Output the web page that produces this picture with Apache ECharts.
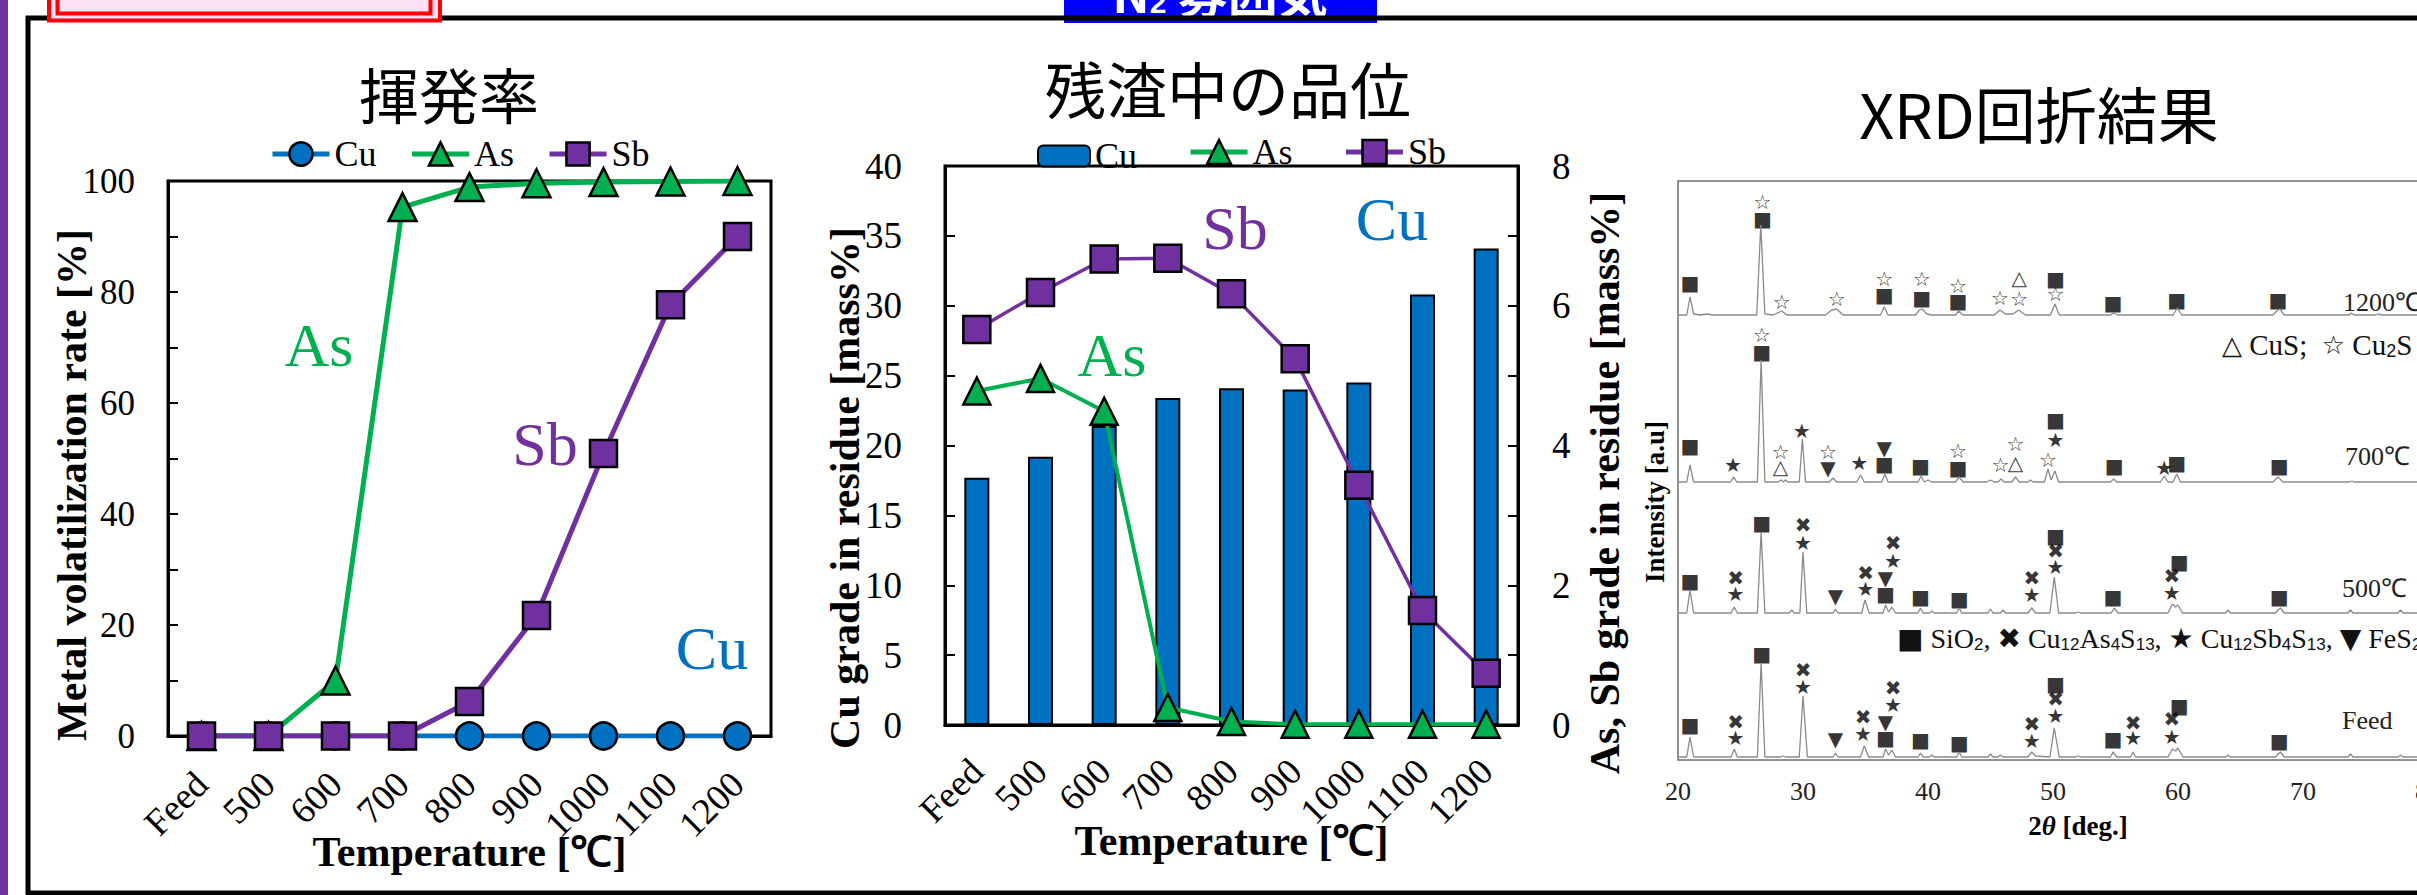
<!DOCTYPE html>
<html>
<head>
<meta charset="utf-8">
<script src="https://cdn.jsdelivr.net/npm/echarts@6.0.0/dist/echarts.min.js"></script>
<style>
  html, body { margin: 0; padding: 0; background: #fff; overflow: hidden; }
  #main { width: 2417px; height: 895px; }
</style>
</head>
<body>
<div id="main"></div>
<script>
// Roasting temperatures (Feed = untreated sample)
const temps = ['Feed', '500', '600', '700', '800', '900', '1000', '1100', '1200'];

// Metal volatilization rate [%]
const volCu = [0, 0, 0, 0, 0, 0, 0, 0, 0];
const volAs = [0, 0, 10, 95.3, 98.9, 99.6, 99.8, 99.9, 100];
const volSb = [0, 0, 0, 0, 6.2, 21.7, 50.9, 77.7, 90.0];

// Grade in residue [mass%]
const gradeCu = [17.7, 19.2, 21.4, 23.4, 24.1, 24.0, 24.5, 30.8, 34.1];
const gradeAs = [4.78, 4.96, 4.49, 0.25, 0.05, 0.01, 0.01, 0.01, 0.01];
const gradeSb = [5.66, 6.19, 6.67, 6.68, 6.17, 5.24, 3.43, 1.64, 0.74];

// XRD patterns: [2theta (deg), intensity above the pattern's own baseline (a.u.)]
const xrdFeed = [[20,0],[20.7,0],[20.96,20],[21.25,0],[24.25,0],[24.5,8],[24.75,0],[26.35,0],[26.65,94],[26.95,0],[28.2,0],[28.4,1],[28.6,0],[29.7,0],[30.0,61],[30.35,0],[32.4,0],[32.6,4],[32.8,0],[34.6,0],[34.9,11],[35.25,0],[36.4,0],[36.6,8],[36.85,2],[37.1,7],[37.4,0],[39.2,0],[39.4,4],[39.6,0],[40.1,0],[40.3,2],[40.5,0],[42.3,0],[42.5,5],[42.7,0],[44.8,0],[45.0,3],[45.2,0],[45.6,0],[45.8,2],[46.0,0],[48.0,0],[48.3,5],[48.6,1],[49.75,0],[50.1,29],[50.5,0],[51.8,0],[52.0,1],[52.2,0],[54.6,0],[54.8,5],[55.1,0],[56.2,0],[56.4,5],[56.6,0],[59.2,0],[59.55,8],[59.8,6],[60.0,9],[60.4,0],[63.8,0],[64.0,2],[64.2,0],[67.8,0],[68.0,3],[68.2,5],[68.5,0],[73.6,0],[73.8,3],[74.0,0],[77.6,0],[77.8,2],[78.0,0],[84,0]];
const xrd500 = [[20,0],[20.7,0],[20.96,23],[21.25,0],[24.25,0],[24.5,6],[24.75,0],[26.35,0],[26.65,81],[26.95,0],[28.9,0],[29.1,3],[29.3,0],[29.75,0],[30.0,61],[30.3,0],[32.4,0],[32.6,4],[32.8,0],[34.7,0],[34.95,13],[35.3,0],[36.4,0],[36.6,8],[36.85,1],[37.1,6],[37.4,0],[39.2,0],[39.4,5],[39.6,0],[40.1,0],[40.3,2],[40.5,0],[42.3,0],[42.5,5],[42.7,0],[44.8,0],[45.0,4],[45.2,0],[45.8,0],[46.0,3],[46.2,0],[48.0,0],[48.3,5],[48.6,0],[49.75,0],[50.1,36],[50.45,0],[51.8,0],[52.0,1],[52.2,0],[54.65,0],[54.9,5],[55.2,0],[59.2,0],[59.55,9],[59.8,6],[60.0,8],[60.35,0],[63.8,0],[64.0,3],[64.2,0],[67.8,0],[68.0,3],[68.2,5],[68.5,0],[73.6,0],[73.8,3],[74.0,0],[77.6,0],[77.8,3],[78.0,0],[84,0]];
const xrd700 = [[20,0],[20.7,0],[20.96,17],[21.25,0],[24.2,0],[24.45,5],[24.7,0],[26.35,0],[26.65,122],[26.95,0],[28.0,0],[28.25,2],[28.45,0],[28.6,2],[28.8,0],[29.7,0],[29.95,43],[30.2,0],[32.1,0],[32.4,4],[32.7,0],[34.3,0],[34.6,7],[34.9,0],[36.3,0],[36.55,8],[36.8,0],[39.2,0],[39.45,6],[39.7,0],[40.0,2],[40.3,0],[42.2,0],[42.5,5],[42.8,0],[44.7,0],[45.0,2],[45.3,0],[45.6,0],[45.85,3],[46.1,0],[46.7,0],[47.0,5],[47.3,0],[48.0,0],[48.2,2],[48.4,0],[49.3,0],[49.6,13],[49.85,2],[50.15,11],[50.45,0],[54.6,0],[54.85,3],[55.1,0],[58.6,0],[58.9,6],[59.2,0],[59.6,0],[59.9,8],[60.2,0],[67.6,0],[68.0,5],[68.4,0],[73.7,0],[73.9,1],[74.1,0],[84,0]];
const xrd1200 = [[20,0],[20.7,0],[20.96,18],[21.25,1],[21.8,0],[22.3,1],[22.8,0],[26.3,0],[26.62,90],[26.95,1],[27.6,0],[28.3,4],[28.7,0],[31.8,0],[32.3,5],[32.7,6],[33.2,0],[36.2,0],[36.5,8],[36.8,0],[39.0,0],[39.3,5],[39.55,6],[39.9,1],[40.3,0],[42.2,0],[42.45,4],[42.8,0],[45.3,0],[45.75,5],[46.2,1],[46.8,1],[47.25,5],[47.8,0],[49.8,0],[50.15,11],[50.5,0],[54.6,0],[54.85,2],[55.2,0],[59.6,0],[59.95,7],[60.3,0],[67.6,0],[67.9,4],[68.15,6],[68.5,0],[73.7,0],[73.85,2],[74.1,0],[75.8,0],[76.0,1],[76.3,0],[84,0]];

// Phase marks: [symbol, 2theta, height above the pattern's baseline]
const marksFeed = [['■',20.96,32],['✖',24.6,35],['★',24.6,19],['■',26.7,103],['✖',30.0,87],['★',30.0,70],['▼',32.6,18],['✖',34.8,40],['★',34.8,23],['▼',36.6,35],['■',36.6,19],['✖',37.2,69],['★',37.2,52],['■',39.4,17],['■',42.5,14],['✖',48.3,33],['★',48.3,16],['■',50.2,73],['✖',50.2,58],['★',50.2,41],['■',54.8,18],['✖',56.4,34],['★',56.4,19],['✖',59.5,38],['★',59.5,20],['■',60.1,51],['■',68.1,16]];
const marks500 = [['■',20.96,32],['✖',24.6,35],['★',24.6,19],['■',26.7,90],['✖',30.0,88],['★',30.0,70],['▼',32.6,17],['✖',35.0,40],['★',35.0,24],['▼',36.6,35],['■',36.6,19],['✖',37.2,70],['★',37.2,52],['■',39.4,16],['■',42.5,14],['✖',48.3,35],['★',48.3,18],['■',50.2,77],['✖',50.2,62],['★',50.2,46],['■',54.8,16],['✖',59.5,37],['★',59.5,20],['■',60.1,51],['■',68.1,16]];
const marks700 = [['■',20.96,36],['★',24.4,17],['☆',26.7,147],['■',26.7,130],['☆',28.2,30],['△',28.2,15],['★',29.9,51],['☆',32.0,30],['▼',32.0,14],['★',34.5,19],['▼',36.5,34],['■',36.5,18],['■',39.4,16],['☆',42.4,31],['■',42.4,14],['☆',45.8,17],['☆',47.0,38],['△',47.0,19],['☆',49.6,22],['■',50.2,62],['★',50.2,42],['■',54.9,16],['★',58.9,14],['■',59.9,19],['■',68.1,16]];
const marks1200 = [['■',20.96,32],['☆',26.75,113],['■',26.75,96],['☆',28.3,13],['☆',32.7,16],['☆',36.5,36],['■',36.5,20],['☆',39.5,36],['■',39.5,17],['☆',42.4,29],['■',42.4,14],['☆',45.75,17],['☆',47.3,16],['△',47.3,37],['■',50.2,36],['☆',50.2,21],['■',54.8,12],['■',59.9,15],['■',68.0,15]];

const xrdTicks = [20, 30, 40, 50, 60, 70, 80];

const CU = '#0070C0', AS = '#00B050', SB = '#7030A0';
const SERIF = "'Liberation Serif', 'Times New Roman', serif";
const GLYPH = "'DejaVu Sans', sans-serif";

// baselines of the stacked XRD patterns on the panel's intensity axis
const xrdBase = { feed: 3, t500: 147, t700: 278, t1200: 445 };

function lineSeries(name, data, color, symbol, size, width, xi, yi) {
  return {
    type: 'line', name, data, xAxisIndex: xi, yAxisIndex: yi,
    symbol, symbolSize: size, showAllSymbol: true,
    lineStyle: { color, width },
    itemStyle: { color, borderColor: '#000', borderWidth: 2.5 },
    emphasis: { disabled: true }, animation: false
  };
}
function xrdLine(data, base) {
  return {
    type: 'line', xAxisIndex: 2, yAxisIndex: 3, silent: true, animation: false,
    showSymbol: false, symbol: 'none',
    lineStyle: { color: '#8a8a8a', width: 1.3 },
    data: data.map(([x, h]) => [x, h + base])
  };
}
function xrdMarks(marks, base) {
  return {
    type: 'scatter', xAxisIndex: 2, yAxisIndex: 3, silent: true, animation: false,
    symbolSize: 1, itemStyle: { color: 'rgba(0,0,0,0)' },
    label: { show: true, position: 'inside', formatter: '{b}', fontFamily: GLYPH, fontSize: 20, color: '#000' },
    labelLayout: { hideOverlap: false },
    data: marks.map(([g, x, h]) => ({ name: g, value: [x, h + base] }))
  };
}
// rotated axis title, centred on (x, y)
function vTitle(text, x, y, size) {
  return { type: 'text', x, y, rotation: Math.PI / 2,
    style: { text, align: 'center', verticalAlign: 'middle', font: `bold ${size}px 'Liberation Serif'`, fill: '#000' } };
}

const axisBlack = { lineStyle: { color: '#000', width: 3 } };
const tickIn = { show: true, inside: true, length: 10, lineStyle: { color: '#000', width: 2 } };
const legendText = size => ({ fontFamily: SERIF, fontSize: size, color: '#000' });
const xName = { fontFamily: SERIF, fontWeight: 'bold', fontSize: 42, color: '#000' };

const option = {
  backgroundColor: '#fff',
  animation: false,
  grid: [
    { left: 168, top: 181, width: 603, height: 555, show: true, borderColor: '#000', borderWidth: 3, outerBoundsMode: 'none' },
    { left: 945, top: 166, width: 573, height: 559, show: true, borderColor: '#000', borderWidth: 3, outerBoundsMode: 'none' },
    { left: 1678, top: 181, width: 800, height: 579, show: true, borderColor: '#707070', borderWidth: 1.5, outerBoundsMode: 'none' }
  ],
  legend: [
    { data: ['Cu', 'As', 'Sb'], left: 265, top: 131, itemWidth: 57, itemHeight: 29, itemGap: 33,
      lineStyle: { width: 5 }, itemStyle: { borderWidth: 2.5, borderColor: '#000' },
      textStyle: legendText(36), selectedMode: false },
    { data: ['Cu grade'], left: 1032, top: 133, itemWidth: 52, itemHeight: 21,
      formatter: n => n.split(' ')[0], itemStyle: { borderWidth: 2, borderColor: '#000' },
      textStyle: legendText(36), selectedMode: false },
    { data: ['As grade', 'Sb grade'], left: 1183, top: 129, itemWidth: 57, itemHeight: 30, itemGap: 51,
      formatter: n => n.split(' ')[0],
      lineStyle: { width: 5 }, itemStyle: { borderWidth: 2.5, borderColor: '#000' },
      textStyle: legendText(36), selectedMode: false }
  ],
  xAxis: [
    { type: 'category', gridIndex: 0, data: temps, boundaryGap: true,
      axisLine: axisBlack, axisTick: { show: false },
      axisLabel: { interval: 0, rotate: 45, margin: 42, fontFamily: SERIF, fontSize: 37, color: '#000' },
      name: 'Temperature [℃]', nameLocation: 'middle', nameGap: 95, nameMoveOverlap: false,
      nameTextStyle: xName },
    { type: 'category', gridIndex: 1, data: temps, boundaryGap: true,
      axisLine: axisBlack, axisTick: { show: false },
      axisLabel: { interval: 0, rotate: 45, margin: 40, fontFamily: SERIF, fontSize: 37, color: '#000' },
      name: 'Temperature [℃]', nameLocation: 'middle', nameGap: 95, nameMoveOverlap: false,
      nameTextStyle: xName },
    { type: 'value', gridIndex: 2, min: 20, max: 84, interval: 10,
      axisLine: { show: false }, axisTick: { show: false }, splitLine: { show: false },
      axisLabel: { margin: 18, fontFamily: SERIF, fontSize: 26, color: '#222',
        formatter: v => (xrdTicks.includes(v) ? String(v) : '') },
      name: '{n|2}{t|θ}{n| [deg.]}', nameLocation: 'middle', nameGap: 52, nameMoveOverlap: false,
      nameTextStyle: { rich: {
        n: { fontFamily: SERIF, fontWeight: 'bold', fontSize: 27, color: '#000' },
        t: { fontFamily: SERIF, fontWeight: 'bold', fontStyle: 'italic', fontSize: 27, color: '#000' } } } }
  ],
  yAxis: [
    { type: 'value', gridIndex: 0, min: 0, max: 100, interval: 10,
      axisLine: { show: true, ...axisBlack }, axisTick: tickIn, splitLine: { show: false },
      axisLabel: { margin: 33, fontFamily: SERIF, fontSize: 35, color: '#000',
        formatter: v => (v % 20 === 0 ? String(v) : '') } },
    { type: 'value', gridIndex: 1, min: 0, max: 40, interval: 5,
      axisLine: { show: true, ...axisBlack }, axisTick: tickIn, splitLine: { show: false },
      axisLabel: { margin: 43, fontFamily: SERIF, fontSize: 37, color: '#000' } },
    { type: 'value', gridIndex: 1, position: 'right', min: 0, max: 8, interval: 1,
      axisLine: { show: true, ...axisBlack }, axisTick: tickIn, splitLine: { show: false },
      axisLabel: { margin: 34, fontFamily: SERIF, fontSize: 37, color: '#000',
        formatter: v => (v % 2 === 0 ? String(v) : '') } },
    { type: 'value', gridIndex: 2, min: 0, max: 579,
      axisLine: { show: false }, axisTick: { show: false }, axisLabel: { show: false }, splitLine: { show: false } }
  ],
  series: [
    lineSeries('Cu', volCu, CU, 'circle', 27, 5, 0, 0),
    lineSeries('As', volAs, AS, 'triangle', 28, 5, 0, 0),
    lineSeries('Sb', volSb, SB, 'rect', 27, 5, 0, 0),
    { type: 'bar', name: 'Cu grade', data: gradeCu, xAxisIndex: 1, yAxisIndex: 1, barWidth: 25,
      itemStyle: { color: CU, borderColor: '#000', borderWidth: 2 }, emphasis: { disabled: true }, animation: false },
    lineSeries('As grade', gradeAs, AS, 'triangle', 27, 4, 1, 2),
    lineSeries('Sb grade', gradeSb, SB, 'rect', 27, 3.5, 1, 2),
    xrdLine(xrdFeed, xrdBase.feed), xrdLine(xrd500, xrdBase.t500),
    xrdLine(xrd700, xrdBase.t700), xrdLine(xrd1200, xrdBase.t1200),
    xrdMarks(marksFeed, xrdBase.feed), xrdMarks(marks500, xrdBase.t500),
    xrdMarks(marks700, xrdBase.t700), xrdMarks(marks1200, xrdBase.t1200)
  ],
  graphic: { elements: [
    // slide decorations
    { type: 'rect', left: 0, top: 0, shape: { width: 8, height: 895 }, style: { fill: '#7030A0' }, z: 10 },
    { type: 'rect', left: 1064, top: 0, shape: { width: 313, height: 23 }, style: { fill: '#0000FF' }, z: 10 },
    { type: 'text', x: 1220, y: -9, z: 11,
      style: { text: 'N{s|2} 雰囲気', align: 'center', verticalAlign: 'middle', fill: '#fff',
        font: "bold 50px 'Noto Sans CJK JP'", rich: { s: { fontSize: 30, fontWeight: 'bold', fill: '#fff', padding: [22, 0, 0, 0] } } } },
    { type: 'rect', shape: { x: 28, y: 18, width: 2500, height: 875 }, style: { fill: 'none', stroke: '#000', lineWidth: 5 }, z: 12 },
    { type: 'rect', shape: { x: 49, y: -10, width: 391, height: 30.5 }, style: { fill: '#FFE1F6', stroke: '#FF0000', lineWidth: 4 }, z: 13 },
    { type: 'rect', shape: { x: 57.5, y: -10, width: 373, height: 23.5 }, style: { fill: '#FFE1F6', stroke: '#FF0000', lineWidth: 4 }, z: 13 },
    // panel titles
    { type: 'text', x: 449, y: 92, style: { text: '揮発率', align: 'center', verticalAlign: 'middle', font: "60px 'Noto Sans CJK JP'", fill: '#000' } },
    { type: 'text', x: 1228, y: 87, style: { text: '残渣中の品位', align: 'center', verticalAlign: 'middle', font: "61px 'Noto Sans CJK JP'", fill: '#000' } },
    { type: 'text', x: 2039, y: 112, style: { text: 'XRD回折結果', align: 'center', verticalAlign: 'middle', font: "61px 'Noto Sans CJK JP'", fill: '#000' } },
    // vertical axis titles
    vTitle('Metal volatilization rate [%]', 72, 485, 42),
    vTitle('Cu grade in residue [mass%]', 845, 488, 42),
    vTitle('As, Sb grade in residue [mass%]', 1605, 483, 42),
    vTitle('Intensity [a.u]', 1655, 502, 27),
    // series annotations
    { type: 'text', x: 319, y: 345, style: { text: 'As', align: 'center', verticalAlign: 'middle', font: "62px 'Liberation Serif'", fill: AS } },
    { type: 'text', x: 545, y: 444, style: { text: 'Sb', align: 'center', verticalAlign: 'middle', font: "62px 'Liberation Serif'", fill: SB } },
    { type: 'text', x: 712, y: 648, style: { text: 'Cu', align: 'center', verticalAlign: 'middle', font: "62px 'Liberation Serif'", fill: CU } },
    { type: 'text', x: 1112, y: 355, style: { text: 'As', align: 'center', verticalAlign: 'middle', font: "62px 'Liberation Serif'", fill: AS } },
    { type: 'text', x: 1235, y: 228, style: { text: 'Sb', align: 'center', verticalAlign: 'middle', font: "62px 'Liberation Serif'", fill: SB } },
    { type: 'text', x: 1392, y: 219, style: { text: 'Cu', align: 'center', verticalAlign: 'middle', font: "62px 'Liberation Serif'", fill: CU } },
    // XRD pattern labels and phase keys
    { type: 'text', x: 2343, y: 302, style: { text: '1200℃', align: 'left', verticalAlign: 'middle', font: "26px 'Liberation Serif'", fill: '#222' } },
    { type: 'text', x: 2345, y: 456, style: { text: '700℃', align: 'left', verticalAlign: 'middle', font: "26px 'Liberation Serif'", fill: '#222' } },
    { type: 'text', x: 2342, y: 588, style: { text: '500℃', align: 'left', verticalAlign: 'middle', font: "26px 'Liberation Serif'", fill: '#222' } },
    { type: 'text', x: 2342, y: 720, style: { text: 'Feed', align: 'left', verticalAlign: 'middle', font: "26px 'Liberation Serif'", fill: '#222' } },
    { type: 'text', x: 2222, y: 345, style: { text: '{g|△} CuS;  {g|☆} Cu{s|2}S', align: 'left', verticalAlign: 'middle',
        font: "29px 'Liberation Serif'", fill: '#111',
        rich: { g: { fontFamily: GLYPH, fontSize: 26, fill: '#111' }, s: { fontSize: 18, fill: '#111', padding: [12, 0, 0, 0] } } } },
    { type: 'text', x: 1897, y: 638, style: { text: '{g|■} SiO{s|2}, {g|✖} Cu{s|12}As{s|4}S{s|13}, {g|★} Cu{s|12}Sb{s|4}S{s|13}, {g|▼} FeS{s|2}',
        align: 'left', verticalAlign: 'middle', font: "28px 'Liberation Serif'", fill: '#111',
        rich: { g: { fontFamily: GLYPH, fontSize: 28, fill: '#111' }, s: { fontSize: 17, fill: '#111', padding: [12, 0, 0, 0] } } } }
  ] }
};

const chart = echarts.init(document.getElementById('main'), null, { renderer: 'svg' });
chart.setOption(option);
</script>
</body>
</html>
